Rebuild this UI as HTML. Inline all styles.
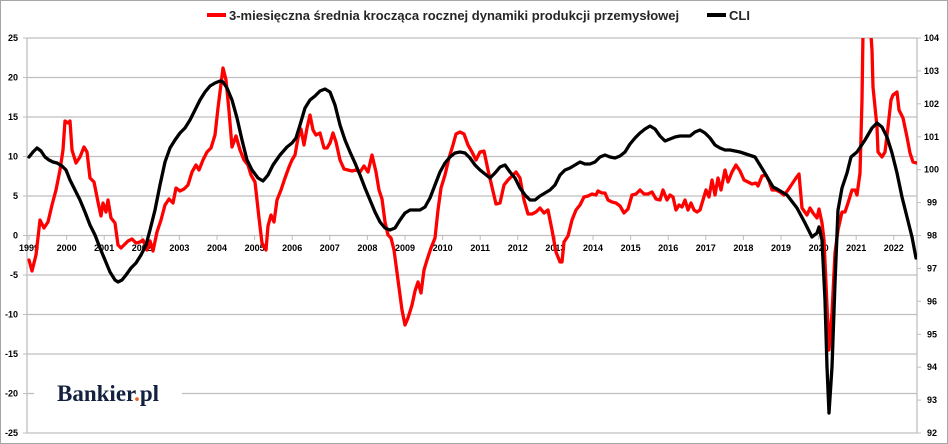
<!DOCTYPE html>
<html><head><meta charset="utf-8"><style>
html,body{margin:0;padding:0;background:#fff}
svg{display:block}
text{font-family:"Liberation Sans",Arial,sans-serif}
</style></head><body>
<svg width="948" height="444" viewBox="0 0 948 444" xmlns="http://www.w3.org/2000/svg">
<rect x="0.5" y="0.5" width="947" height="443" fill="#fff" stroke="#a6a6a6"/>
<g stroke="#bfbfbf" stroke-width="1.3">
<line x1="27" y1="38" x2="917" y2="38"/>
<line x1="27" y1="77.5" x2="917" y2="77.5"/>
<line x1="27" y1="117" x2="917" y2="117"/>
<line x1="27" y1="156.5" x2="917" y2="156.5"/>
<line x1="27" y1="196" x2="917" y2="196"/>
<line x1="27" y1="235.5" x2="917" y2="235.5"/>
<line x1="27" y1="275" x2="917" y2="275"/>
<line x1="27" y1="314.5" x2="917" y2="314.5"/>
<line x1="27" y1="354" x2="917" y2="354"/>
<line x1="27" y1="393.5" x2="917" y2="393.5"/>
<line x1="27" y1="433" x2="917" y2="433"/>
<line x1="27" y1="38" x2="27" y2="433"/>
<line x1="917" y1="38" x2="917" y2="433"/>
</g>
<g stroke="#bfbfbf" stroke-width="1">
<line x1="23" y1="38" x2="27" y2="38"/><line x1="23" y1="77.5" x2="27" y2="77.5"/><line x1="23" y1="117" x2="27" y2="117"/><line x1="23" y1="156.5" x2="27" y2="156.5"/><line x1="23" y1="196" x2="27" y2="196"/><line x1="23" y1="235.5" x2="27" y2="235.5"/><line x1="23" y1="275" x2="27" y2="275"/><line x1="23" y1="314.5" x2="27" y2="314.5"/><line x1="23" y1="354" x2="27" y2="354"/><line x1="23" y1="393.5" x2="27" y2="393.5"/><line x1="23" y1="433" x2="27" y2="433"/>
<line x1="917" y1="38" x2="921" y2="38"/><line x1="917" y1="70.9" x2="921" y2="70.9"/><line x1="917" y1="103.8" x2="921" y2="103.8"/><line x1="917" y1="136.8" x2="921" y2="136.8"/><line x1="917" y1="169.7" x2="921" y2="169.7"/><line x1="917" y1="202.6" x2="921" y2="202.6"/><line x1="917" y1="235.5" x2="921" y2="235.5"/><line x1="917" y1="268.4" x2="921" y2="268.4"/><line x1="917" y1="301.3" x2="921" y2="301.3"/><line x1="917" y1="334.3" x2="921" y2="334.3"/><line x1="917" y1="367.2" x2="921" y2="367.2"/><line x1="917" y1="400.1" x2="921" y2="400.1"/><line x1="917" y1="433" x2="921" y2="433"/>
</g>
<g stroke="#bfbfbf"><path d="M29 235v5M66.6 235v5M104.2 235v5M141.8 235v5M179.4 235v5M217 235v5M254.6 235v5M292.2 235v5M329.8 235v5M367.4 235v5M405 235v5M442.6 235v5M480.2 235v5M517.8 235v5M555.4 235v5M593 235v5M630.6 235v5M668.2 235v5M705.8 235v5M743.4 235v5M781 235v5M818.6 235v5M856.2 235v5M893.8 235v5"/></g>
<g font-size="9" font-weight="bold" fill="#000" text-anchor="end">
<text x="18" y="41">25</text><text x="18" y="80.5">20</text><text x="18" y="120">15</text><text x="18" y="159.5">10</text><text x="18" y="199">5</text><text x="18" y="238.5">0</text><text x="18" y="278">-5</text><text x="18" y="317.5">-10</text><text x="18" y="357">-15</text><text x="18" y="396.5">-20</text><text x="18" y="436">-25</text>
</g>
<g font-size="9" font-weight="bold" fill="#000">
<text x="924" y="41">104</text><text x="924" y="73.9">103</text><text x="924" y="106.8">102</text><text x="924" y="139.8">101</text><text x="924" y="172.7">100</text><text x="927" y="205.6">99</text><text x="927" y="238.5">98</text><text x="927" y="271.4">97</text><text x="927" y="304.3">96</text><text x="927" y="337.3">95</text><text x="927" y="370.2">94</text><text x="927" y="403.1">93</text><text x="927" y="436">92</text>
</g>
<g font-size="9" font-weight="bold" fill="#000" text-anchor="middle">
<text x="29" y="251">1999</text><text x="66.6" y="251">2000</text><text x="104.2" y="251">2001</text><text x="141.8" y="251">2002</text><text x="179.4" y="251">2003</text><text x="217" y="251">2004</text><text x="254.6" y="251">2005</text><text x="292.2" y="251">2006</text><text x="329.8" y="251">2007</text><text x="367.4" y="251">2008</text><text x="405" y="251">2009</text><text x="442.6" y="251">2010</text><text x="480.2" y="251">2011</text><text x="517.8" y="251">2012</text><text x="555.4" y="251">2013</text><text x="593" y="251">2014</text><text x="630.6" y="251">2015</text><text x="668.2" y="251">2016</text><text x="705.8" y="251">2017</text><text x="743.4" y="251">2018</text><text x="781" y="251">2019</text><text x="818.6" y="251">2020</text><text x="856.2" y="251">2021</text><text x="893.8" y="251">2022</text>
</g>
<rect x="34" y="376" width="148" height="34" fill="#fff"/>
<text x="57" y="401" style="font-family:'Liberation Serif',serif" font-size="23" font-weight="bold" fill="#13213f">Bankier<tspan fill="#e8601c">.</tspan>pl</text>
<defs><clipPath id="c"><rect x="27" y="38" width="890" height="396"/></clipPath></defs>
<g clip-path="url(#c)" fill="none" stroke-linejoin="round" stroke-linecap="round" stroke-width="3.3">
<polyline stroke="#ff0000" points="29,260 32,271 36,255 40,220 44,228 48,222 52,205 56,190 60,170 63,150 65,121 68,123 70,121 72,150 76,163 80,157 84,147 87,152 90,178 94,182 98,202 101,216 103,203 106,212 108,200 111,218 115,223 118,245 121,248 124,245 128,241 132,239 136,243 140,242 143,240 147,250 150,241 153,251 157,232 161,220 165,205 169,199 173,203 176,188 180,191 184,189 188,185 192,172 196,165 199,170 203,160 207,152 211,148 215,135 218,108 223,68 226,80 229,111 232,147 236,136 240,150 244,160 248,165 251,175 255,182 259,218 262,243 266,250 268,226 271,215 274,222 277,200 281,190 285,178 289,167 292,160 295,155 298,138 301,129 304,145 307,128 310,115 313,130 316,135 320,133 324,148 327,148 330,143 333,133 336,142 340,160 344,169 348,170 352,171 356,170 360,172 364,166 368,172 372,155 376,172 379,190 382,199 385,222 388,235 391,238 394,250 398,280 402,310 405,325 408,318 412,305 415,291 418,282 421,293 424,270 427,260 431,248 435,238 438,210 441,188 445,175 449,158 453,145 456,134 460,132 464,134 468,145 472,152 476,160 480,152 484,151 488,170 492,187 496,204 500,203 504,185 508,180 512,176 516,172 520,178 524,200 528,214 532,214 536,212 540,208 544,213 548,210 552,230 556,252 560,262 562,262 564,242 568,236 572,220 576,210 580,205 584,197 588,196 592,194 596,195 598,191 602,193 605,193 608,200 612,202 616,203 620,206 624,213 628,209 632,195 636,194 640,190 644,194 648,194 652,192 656,199 660,200 663,190 667,200 670,195 673,197 676,210 679,205 682,207 685,200 688,210 691,203 694,210 697,212 700,210 703,200 706,190 709,197 712,180 715,195 718,178 721,190 725,170 728,182 732,172 736,165 740,171 744,180 748,182 752,184 756,183 758,186 762,176 766,175 769,181 772,190 776,190 780,192 784,195 788,190 792,184 796,178 799,174 802,208 807,215 810,208 813,213 817,218 819,209 822,223 824,240 829,350 832,313 835,253 838,230 842,212 845,212 848,203 852,190 855,190 857,195 860,173 862,100 863,33 864,20 870,20 872,50 873,87 877,127 878,152 882,157 885,152 888,127 891,100 893,95 897,92 899,110 903,118 907,137 910,153 913,162 917,163"/>
<polyline stroke="#000" points="29,157 33,152 37,148 41,151 45,157 49,160 53,162 57,163 62,166 66,170 70,180 75,190 80,200 85,212 90,225 95,235 100,248 105,260 110,272 115,280 118,282 122,280 126,275 131,268 136,263 141,255 146,245 150,230 155,210 160,185 165,162 170,148 175,140 180,133 185,128 190,120 195,110 200,100 205,92 210,86 215,83 220,81 223,82 227,88 232,100 237,118 242,140 247,160 252,170 258,178 263,181 268,175 273,165 280,155 287,147 292,143 296,138 300,125 305,108 310,100 315,96 320,91 325,89 330,92 335,105 340,125 345,140 350,152 355,163 360,175 365,188 370,200 375,212 380,222 385,228 390,230 395,228 400,220 405,213 410,210 415,210 420,210 425,207 430,198 435,185 440,172 445,163 450,157 455,153 460,152 465,153 470,158 475,165 480,170 485,174 490,178 495,173 500,167 505,165 510,172 515,178 520,188 525,195 530,200 535,200 540,196 545,193 550,190 555,185 560,175 565,170 570,168 575,165 580,162 585,164 590,164 595,162 600,157 605,155 610,157 615,158 620,156 625,152 630,144 635,138 640,133 645,129 650,126 655,129 660,136 665,141 670,139 675,137 680,136 685,136 690,136 695,132 700,130 705,133 710,138 715,145 720,148 725,150 730,150 735,151 740,152 755,157 763,170 773,187 777,189 787,195 797,208 805,223 812,237 817,233 819,227 822,240 825,300 827,367 829,413 832,367 835,283 838,210 842,188 847,173 851,157 857,152 865,140 872,128 877,123 882,127 887,137 892,153 897,173 902,197 907,217 912,237 916,258"/>
</g>
<line x1="207" y1="15" x2="226" y2="15" stroke="#ff0000" stroke-width="4"/>
<text x="229" y="20" font-size="13" font-weight="bold" fill="#262626">3-miesięczna średnia krocząca rocznej dynamiki produkcji przemysłowej</text>
<line x1="707" y1="15" x2="726" y2="15" stroke="#000" stroke-width="4"/>
<text x="729" y="20" font-size="13" font-weight="bold" fill="#262626">CLI</text>
</svg>
</body></html>
